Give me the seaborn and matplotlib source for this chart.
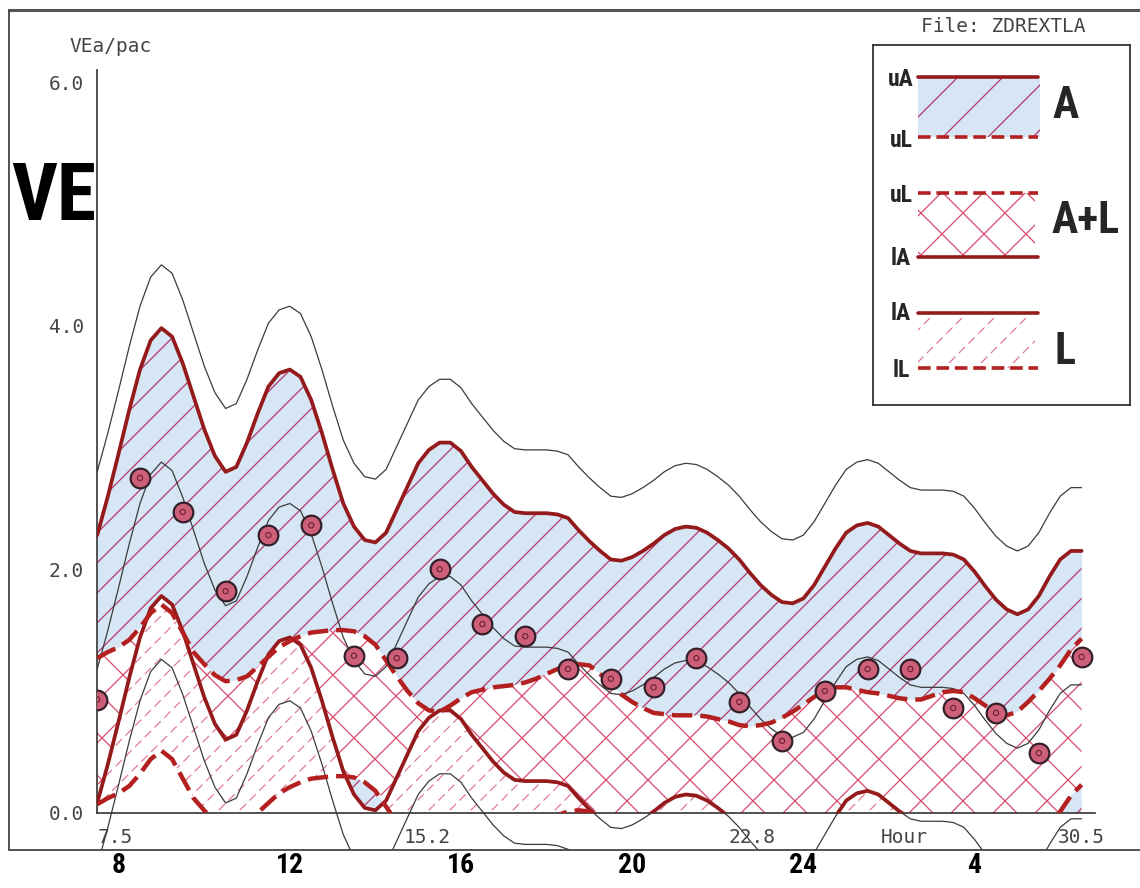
import numpy as np
import matplotlib
matplotlib.use("Agg")
import matplotlib.pyplot as plt
import seaborn as sns
from matplotlib import font_manager as fm
from matplotlib.collections import LineCollection
from matplotlib.lines import Line2D
from matplotlib.patches import Rectangle
from matplotlib.path import Path

# hourly observations (7.5 = 07:30 ... 30.5 = 06:30 next morning)
obs_hours = [7.5, 8.5, 9.5, 10.5, 11.5, 12.5, 13.5, 14.5, 15.5, 16.5, 17.5, 18.5,
             19.5, 20.5, 21.5, 22.5, 23.5, 24.5, 25.5, 26.5, 27.5, 28.5, 29.5, 30.5]
obs_ve = [0.93, 2.75, 2.47, 1.82, 2.28, 2.36, 1.29, 1.27, 2.00, 1.55, 1.45, 1.18,
          1.10, 1.03, 1.27, 0.91, 0.59, 1.00, 1.18, 1.18, 0.86, 0.82, 0.49, 1.28]

fit_hours = np.arange(7.5, 30.625, 0.25)
a_mid = [1.18, 1.50, 1.85, 2.21, 2.54, 2.78, 2.88, 2.81, 2.59, 2.32, 2.05, 1.83,
         1.70, 1.74, 1.94, 2.18, 2.40, 2.51, 2.54, 2.48, 2.29, 2.02, 1.72, 1.44,
         1.25, 1.14, 1.12, 1.20, 1.39, 1.58, 1.77, 1.88, 1.94, 1.94, 1.87, 1.74,
         1.63, 1.52, 1.43, 1.37, 1.36, 1.36, 1.36, 1.35, 1.32, 1.22, 1.13, 1.05,
         0.98, 0.97, 1.00, 1.05, 1.11, 1.18, 1.23, 1.25, 1.24, 1.20, 1.14, 1.07,
         0.98, 0.87, 0.77, 0.69, 0.63, 0.62, 0.66, 0.77, 0.92, 1.07, 1.20, 1.26,
         1.28, 1.25, 1.18, 1.11, 1.05, 1.03, 1.03, 1.03, 1.02, 0.98, 0.88, 0.76,
         0.65, 0.57, 0.53, 0.57, 0.68, 0.84, 0.98, 1.05, 1.05]
l_mid = [0.67, 0.72, 0.76, 0.82, 0.92, 1.04, 1.11, 1.04, 0.88, 0.72, 0.62, 0.53,
         0.48, 0.49, 0.52, 0.60, 0.68, 0.76, 0.81, 0.85, 0.88, 0.89, 0.90, 0.90,
         0.89, 0.85, 0.78, 0.65, 0.52, 0.40, 0.30, 0.24, 0.23, 0.28, 0.34, 0.39,
         0.41, 0.43, 0.44, 0.45, 0.47, 0.50, 0.54, 0.58, 0.61, 0.62, 0.61, 0.54,
         0.46, 0.37, 0.31, 0.26, 0.22, 0.21, 0.20, 0.20, 0.20, 0.19, 0.17, 0.15,
         0.12, 0.11, 0.12, 0.14, 0.18, 0.23, 0.29, 0.35, 0.41, 0.43, 0.43, 0.41,
         0.39, 0.38, 0.36, 0.34, 0.33, 0.33, 0.36, 0.39, 0.40, 0.39, 0.34, 0.28,
         0.23, 0.20, 0.23, 0.31, 0.40, 0.50, 0.61, 0.74, 0.83]
a_half = 1.10      # half width of the A band
l_half = 0.60      # half width of the L band
outer_half = 1.62  # half width of the thin outer band

hour_ticks = [8, 10, 12, 14, 16, 18, 20, 22, 24, 26, 28, 30, 30.5]
scale_ticks = [7.5, 15.2, 22.8, 30.5]
scale_labels = ["7.5", "15.2", "22.8", "30.5"]
clock_ticks = [8, 12, 16, 20, 24, 28]
clock_labels = ["8", "12", "16", "20", "24", "4"]
y_ticks = [0, 2, 4, 6]
y_labels = ["0.0", "2.0", "4.0", "6.0"]

SOLID = "#951a1c"
DASH = "#b3201f"
BLUE = "#d6e6f5"
A_HATCH = "#b0386c"
X_HATCH = "#d8486c"
L_HATCH = "#e07a98"
THIN = "#3c3c3c"
MONO = ["DejaVu Sans Mono"]

sns.set_style("white")
plt.rcParams["font.family"] = ["DejaVu Sans"]


def heavy_font():
    # look for a bold narrow face; fall back to Liberation Sans bold
    prefs = ["Liberation Sans Narrow", "Roboto Condensed", "DejaVu Sans",
             "Open Sans Condensed", "Open Sans", "Noto Sans", "Roboto"]
    found = []
    for f in fm.fontManager.ttflist:
        w = f.weight if isinstance(f.weight, int) else fm.weight_dict.get(f.weight, 400)
        narrow = ("Narrow" in f.name or "Condensed" in f.name
                  or f.stretch in ("condensed", "semi-condensed", "extra-condensed",
                                   "ultra-condensed"))
        if narrow and w >= 600 and f.style == "normal":
            rank = prefs.index(f.name) if f.name in prefs else len(prefs)
            found.append((rank, -w, f.fname))
    if found:
        found.sort()
        return fm.FontProperties(fname=found[0][2])
    return fm.FontProperties(family="Liberation Sans", weight="bold")


HEAVY = heavy_font()

W, H = 1140, 888
fig = plt.figure(figsize=(W / 100, H / 100), dpi=100)
ax = fig.add_axes([97.2 / W, 38 / H, 997.8 / W, 780 / H])
ax.set_xlim(7.5, 7.5 + 997.8 / 42.8)
ax.set_ylim(-0.306, 6.10)


def hatch_lines(target, region, trans, spacing, rising, color, lw, ls="-"):
    paths = region.get_paths()
    if not paths:
        return
    w_in, h_in = fig.get_size_inches()
    offs = np.arange(-h_in, w_in + h_in, spacing)
    if rising:
        segs = [[(o, 0.0), (o + h_in, h_in)] for o in offs]
    else:
        segs = [[(o, h_in), (o + h_in, 0.0)] for o in offs]
    lc = LineCollection(segs, colors=color, linewidths=lw, linestyles=ls,
                        transform=fig.dpi_scale_trans, zorder=1.5)
    target.add_collection(lc, autolim=False)
    lc.set_clip_path(Path.make_compound_path(*paths), trans)


x = fit_hours
a_mid = np.array(a_mid)
l_mid = np.array(l_mid)
a_hi, a_lo = a_mid + a_half, a_mid - a_half
l_hi, l_lo = l_mid + l_half, l_mid - l_half
zero = np.zeros_like(x)

# A only (upper part)
lo, hi = np.maximum(l_hi, a_lo), a_hi
reg = ax.fill_between(x, lo, hi, where=hi > lo, interpolate=True,
                      facecolor=BLUE, lw=0, zorder=1)
hatch_lines(ax, reg, ax.transData, 0.30, True, A_HATCH, 0.9)
# A only (below L)
lo, hi = np.maximum(a_lo, zero), np.minimum(l_lo, a_hi)
reg = ax.fill_between(x, lo, hi, where=hi > lo, interpolate=True,
                      facecolor=BLUE, lw=0, zorder=1)
hatch_lines(ax, reg, ax.transData, 0.30, True, A_HATCH, 0.9)
# A + L overlap
lo, hi = np.maximum(np.maximum(a_lo, l_lo), zero), np.minimum(a_hi, l_hi)
reg = ax.fill_between(x, lo, hi, where=hi > lo, interpolate=True,
                      facecolor="none", lw=0, zorder=1)
hatch_lines(ax, reg, ax.transData, 0.42, True, X_HATCH, 0.9)
hatch_lines(ax, reg, ax.transData, 0.42, False, X_HATCH, 0.9)
# L only
lo, hi = np.maximum(l_lo, zero), np.minimum(a_lo, l_hi)
reg = ax.fill_between(x, lo, hi, where=hi > lo, interpolate=True,
                      facecolor="none", lw=0, zorder=1)
hatch_lines(ax, reg, ax.transData, 0.21, True, L_HATCH, 0.9, (0, (7, 4)))

# thin outer band, centre line and the lower A limit below zero
for yy in (a_mid + outer_half, a_mid, a_mid - outer_half, a_lo):
    sns.lineplot(x=x, y=yy, ax=ax, color=THIN, linewidth=0.9, zorder=2.2)

# thick limits, drawn only above zero
above = Rectangle((7.5, 0), 24, 7, transform=ax.transData)
for yy, col, ls, lw in ((a_hi, SOLID, "-", 2.7), (a_lo, SOLID, "-", 2.7),
                        (l_hi, DASH, (0, (4.6, 1.8)), 3.2),
                        (l_lo, DASH, (0, (4.6, 1.8)), 3.2)):
    sns.lineplot(x=x, y=yy, ax=ax, color=col, linewidth=lw, linestyle=ls, zorder=3)
    ax.lines[-1].set_clip_path(above)

sns.scatterplot(x=obs_hours, y=obs_ve, ax=ax, s=200, color="#cd5f78",
                edgecolor="#33202a", linewidth=1.6, zorder=5)
sns.scatterplot(x=obs_hours, y=obs_ve, ax=ax, s=14, marker="o", facecolors="none",
                edgecolor="#6b1f33", linewidth=0.8, zorder=6)

ax.set_xlabel("")
ax.set_ylabel("")
for s in ("top", "right"):
    ax.spines[s].set_visible(False)
ax.spines["bottom"].set_position(("data", 0))
ax.spines["left"].set_bounds(0, 6.1)
for s in ("bottom", "left"):
    ax.spines[s].set_color("#333333")
    ax.spines[s].set_linewidth(1.2)

ax.set_yticks(y_ticks)
ax.set_yticklabels(y_labels, family=MONO, fontsize=14, color="#444444")
ax.tick_params(axis="y", direction="inout", length=13, width=1.1, color="#333333", pad=3)
ax.set_xticks(hour_ticks)
ax.set_xticks([15.2, 22.8], minor=True)
ax.tick_params(axis="x", which="major", direction="inout", length=16, width=1.3,
               color="#222222", labelbottom=False)
ax.tick_params(axis="x", which="minor", direction="inout", length=7, width=1.0,
               color="#888888", labelbottom=False)

for h, lab in zip(scale_ticks, scale_labels):
    ax.text(h, -0.20, lab, ha="left" if h == scale_ticks[0] else "center",
            va="center", family=MONO, fontsize=14, color="#444444")
ax.text(26.35, -0.20, "Hour", ha="center", va="center", family=MONO,
        fontsize=14, color="#444444")
clock_texts = [ax.text(h, -0.43, lab, ha="center", va="center", fontproperties=HEAVY,
                       fontsize=22, color="black", clip_on=False)
               for h, lab in zip(clock_ticks, clock_labels)]

fig.text(111 / W, 1 - 47 / H, "VEa/pac", ha="center", va="center", family=MONO,
         fontsize=14, color="#444444")
fig.text(1003 / W, 1 - 26 / H, "File: ZDREXTLA", ha="center", va="center",
         family=MONO, fontsize=14, color="#444444")
ve_text = fig.text(96 / W, 1 - 198 / H, "VE", ha="right", va="center",
                   fontproperties=HEAVY, fontsize=60, color="black")

# page frame
fig.add_artist(Line2D([8.5 / W, 1], [1 - 10 / H, 1 - 10 / H], color="#555555", lw=2.2))
fig.add_artist(Line2D([8.5 / W, 8.5 / W], [1 - 10 / H, 1 - 850 / H], color="#444444", lw=1.3))
fig.add_artist(Line2D([8.5 / W, 1], [1 - 850 / H, 1 - 850 / H], color="#444444", lw=1.3))

# key box
lax = fig.add_axes([873 / W, 1 - 405 / H, 257 / W, 360 / H])
lax.set_xlim(873, 1130)
lax.set_ylim(405, 45)
lax.set_xticks([])
lax.set_yticks([])
for s in lax.spines.values():
    s.set_color("#333333")
    s.set_linewidth(1.3)

sw = lax.fill_between([918, 1040], 137, 77, facecolor=BLUE, lw=0)
hatch_lines(lax, sw, lax.transData, 0.45, True, A_HATCH, 0.9)
sw = lax.fill_between([918, 1035], 257, 193, facecolor="none", lw=0)
hatch_lines(lax, sw, lax.transData, 0.42, True, X_HATCH, 0.9)
hatch_lines(lax, sw, lax.transData, 0.42, False, X_HATCH, 0.9)
sw = lax.fill_between([918, 1035], 368, 313, facecolor="none", lw=0)
hatch_lines(lax, sw, lax.transData, 0.32, True, L_HATCH, 0.9, (0, (7, 4)))

for yv, col, ls in ((77, SOLID, "-"), (137, DASH, (0, (3.5, 1.6))),
                    (193, DASH, (0, (3.5, 1.6))), (257, SOLID, "-"),
                    (313, SOLID, "-"), (368, DASH, (0, (3.5, 1.6)))):
    lax.plot([918, 1038], [yv, yv], color=col, lw=2.6, linestyle=ls)

small_keys = [lax.text(901, yv, lab, ha="center", va="center", fontproperties=HEAVY,
                       fontsize=16)
              for yv, lab in ((80, "uA"), (140, "uL"), (195, "uL"), (258, "lA"),
                              (313, "lA"), (370, "lL"))]
big_keys = [lax.text(xv, yv, lab, ha="center", va="center", fontproperties=HEAVY,
                     fontsize=38)
            for xv, yv, lab in ((1066, 106, "A"), (1086, 221, "A+L"), (1065, 352, "L"))]


def fit_size(txt, width_px, cap_px):
    # scale so the text takes the reference width, but not taller than the reference
    r = fig.canvas.get_renderer()
    bb = txt.get_window_extent(renderer=r)
    return min(txt.get_fontsize() * width_px / bb.width, cap_px)


ve_text.set_fontsize(fit_size(ve_text, 85, 75))
size = fit_size(clock_texts[3], 28, 25)
for t in clock_texts:
    t.set_fontsize(size)
size = fit_size(small_keys[0], 32, 17)
for t in small_keys:
    t.set_fontsize(size)
size = fit_size(big_keys[1], 68, 43)
for t in big_keys:
    t.set_fontsize(size)

fig.savefig("out.png", dpi=100)
